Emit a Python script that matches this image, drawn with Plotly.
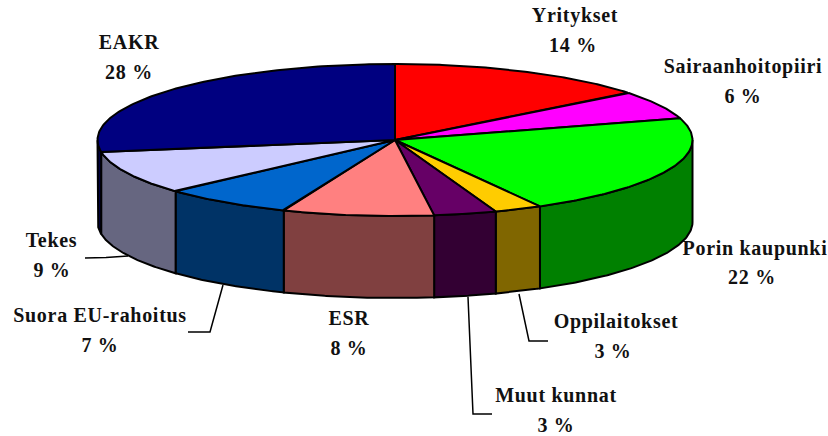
import numpy as np
import plotly.graph_objects as go

# --- data -------------------------------------------------------------
categories = ["Yritykset", "Sairaanhoitopiiri", "Porin kaupunki", "Oppilaitokset",
              "Muut kunnat", "ESR", "Suora EU-rahoitus", "Tekes", "EAKR"]
shares = [14.3, 6.1, 21.5, 2.6, 3.4, 8.2, 7.1, 9.3, 27.5]
percent_labels = ["14 %", "6 %", "22 %", "3 %", "3 %", "8 %", "7 %", "9 %", "28 %"]

# --- styles -----------------------------------------------------------
top_colors = ["#FF0000", "#FF00FF", "#00FF00", "#FFCC00", "#660066",
              "#FF8080", "#0066CC", "#CCCCFF", "#000080"]
side_colors = ["#800000", "#800080", "#008000", "#806600", "#330033",
               "#804040", "#003366", "#666680", "#000040"]

W, H = 828, 436
CX, CY, RX, RY, DEPTH = 395, 140, 297.5, 76, 82
FONT = dict(family="Liberation Serif", size=20, color="#111111")

# label placement: (name x, name y, percent x, percent y)
label_pos = [
    (575, 17, 573, 47), (743, 68, 743, 98), (755, 250, 752, 279),
    (616, 323, 613, 353), (556, 397, 556, 427), (349, 320, 349, 350),
    (100, 317, 100, 347), (51.5, 242, 52, 272), (129, 44, 129, 74),
]
# leader elbows, in plot units
leaders = {
    "Tekes": ([128, 106, 85], [256, 257.5, 258]),
    "Suora EU-rahoitus": ([223, 210, 188], [285, 332, 332]),
    "Oppilaitokset": ([519, 529, 548], [294, 341, 341]),
    "Muut kunnat": ([468, 473, 492], [297, 414, 414]),
}


def ex(t):
    return CX + RX * np.sin(np.radians(t))


def ey(t):
    return CY - RY * np.cos(np.radians(t))


fig = go.Figure()
edges = np.concatenate([[0], np.cumsum(shares)]) / sum(shares) * 360


def poly(x, y, color):
    fig.add_trace(go.Scatter(x=x, y=y, mode="lines", fill="toself", fillcolor=color,
                             line=dict(color="#000000", width=2, shape="linear"),
                             hoverinfo="skip", showlegend=False))


# walls (only the front half of the rim can be seen)
for i in range(len(shares)):
    a, b = max(edges[i], 90), min(edges[i + 1], 270)
    if a >= b:
        continue
    t = np.linspace(a, b, 90)
    x = np.concatenate([ex(t), ex(t[::-1]), [ex(t[0])]])
    y = np.concatenate([ey(t), ey(t[::-1]) + DEPTH, [ey(t[0])]])
    poly(x, y, side_colors[i])

# top faces
for i in range(len(shares)):
    t = np.linspace(edges[i], edges[i + 1], 120)
    x = np.concatenate([[CX], ex(t), [CX]])
    y = np.concatenate([[CY], ey(t), [CY]])
    poly(x, y, top_colors[i])

# leader lines
for lx, ly in leaders.values():
    fig.add_trace(go.Scatter(x=lx, y=ly, mode="lines", line=dict(color="#000000", width=1.5),
                             hoverinfo="skip", showlegend=False))

# labels
fig.add_trace(go.Scatter(x=[p[0] for p in label_pos], y=[p[1] for p in label_pos],
                         mode="text", text=[f"<b>{c}</b>" for c in categories],
                         textposition="middle center", textfont=FONT,
                         hoverinfo="skip", showlegend=False))
fig.add_trace(go.Scatter(x=[p[2] for p in label_pos], y=[p[3] for p in label_pos],
                         mode="text", text=[f"<b>{c}</b>" for c in percent_labels],
                         textposition="middle center", textfont=FONT,
                         hoverinfo="skip", showlegend=False))

fig.update_layout(
    width=W, height=H, margin=dict(l=0, r=0, t=0, b=0),
    paper_bgcolor="white", plot_bgcolor="white", showlegend=False,
    xaxis=dict(range=[0, W], visible=False, fixedrange=True),
    yaxis=dict(range=[H, 0], visible=False, fixedrange=True),
)
fig.write_html("out.html",
               post_script="document.body.style.margin='0';"
                           "document.querySelectorAll('.textpoint text').forEach("
                           "function(n){n.style.letterSpacing='0.7px';});",
               config={"displayModeBar": False})
